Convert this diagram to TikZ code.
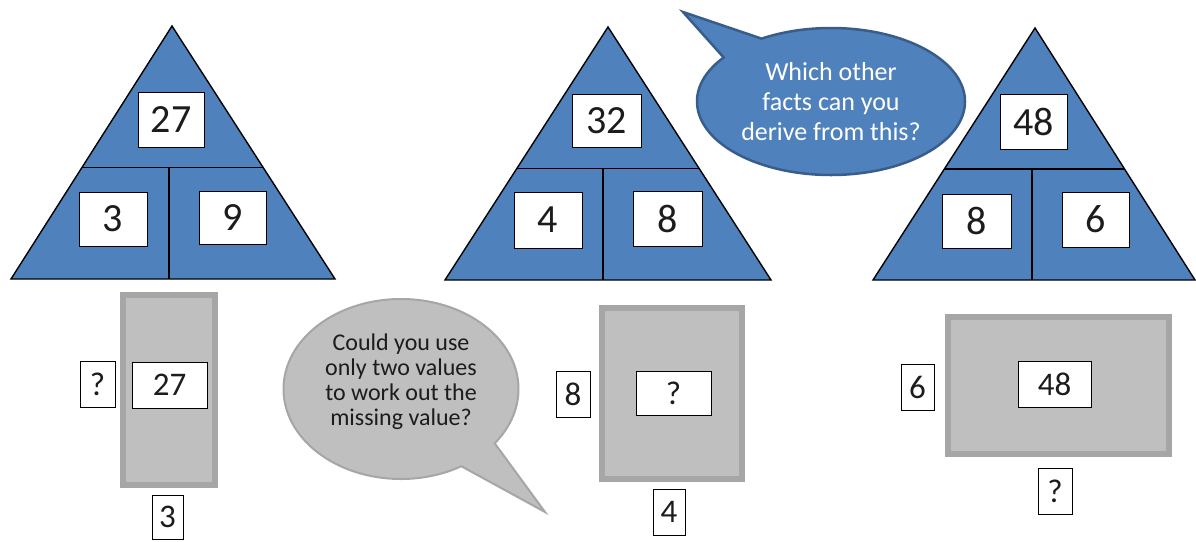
\documentclass[tikz,border=0pt]{standalone}
\usepackage{fontspec}
\setmainfont{Carlito}
\usetikzlibrary{calc,shapes.callouts}
\definecolor{triblue}{HTML}{4F81BD}
\definecolor{bubedge}{HTML}{385D8A}
\definecolor{grayfill}{HTML}{BFBFBF}
\definecolor{grayedge}{HTML}{A6A6A6}
\definecolor{txtdark}{HTML}{1C1C1C}
\begin{document}
\begin{tikzpicture}[x=1pt,y=-1pt,
  tri/.style={fill=triblue,draw=black,line width=1.4pt,line join=miter},
  divline/.style={draw=black,line width=1.4pt},
  bignum/.style={draw=black,fill=white,line width=1pt,inner sep=0pt,text=txtdark,
    font=\fontsize{40}{44}\selectfont},
  smallnum/.style={draw=black,fill=white,line width=1pt,inner sep=0pt,text=txtdark,
    font=\fontsize{33}{36}\selectfont},
  grayrect/.style={draw=grayedge,fill=grayfill,line width=6pt,inner sep=0pt},
  graybub/.style={ellipse callout,draw=grayedge,fill=grayfill,line width=2pt,inner sep=0pt,
    callout pointer arc=22,align=center,text=txtdark,
    font=\fontsize{24}{25}\selectfont},
  bluebub/.style={ellipse callout,draw=bubedge,fill=triblue,line width=2.5pt,inner sep=0pt,
    callout pointer arc=22,align=center,text=white,
    font=\fontsize{26}{30}\selectfont}
]
\useasboundingbox (0,0) rectangle (1196,541);

% ---------- Triangle 1 ----------
\coordinate (A1) at (172,26);
\coordinate (L1) at (11,279);
\coordinate (R1) at (335,279);
\coordinate (D1l) at ($(A1)!0.56!(L1)$);
\coordinate (D1r) at ($(A1)!0.56!(R1)$);
\coordinate (V1) at (169,279);
\coordinate (V1t) at (V1 |- D1l);
\draw[tri] (A1) -- (L1) -- (R1) -- cycle;
\draw[divline] (D1l) -- (D1r);
\draw[divline] (V1t) -- (V1);
\node[bignum,minimum width=66pt,minimum height=55pt] (t1top) at (171,119.5) {27};
\node[bignum,minimum width=68pt,minimum height=54pt] (t1l) at (113,219) {3};
\node[bignum,minimum width=67pt,minimum height=53pt] (t1r) at (232.5,217.5) {9};

% ---------- Triangle 2 ----------
\coordinate (A2) at (608,27);
\coordinate (L2) at (445,280);
\coordinate (R2) at (771,280);
\coordinate (D2l) at ($(A2)!0.56!(L2)$);
\coordinate (D2r) at ($(A2)!0.56!(R2)$);
\coordinate (V2) at (603,280);
\coordinate (V2t) at (V2 |- D2l);
\draw[tri] (A2) -- (L2) -- (R2) -- cycle;
\draw[divline] (D2l) -- (D2r);
\draw[divline] (V2t) -- (V2);
\node[bignum,minimum width=69pt,minimum height=53pt] (t2top) at (606.5,120.5) {32};
\node[bignum,minimum width=68pt,minimum height=56pt] (t2l) at (548,220) {4};
\node[bignum,minimum width=69pt,minimum height=55pt] (t2r) at (667.5,218.5) {8};

% ---------- Triangle 3 ----------
\coordinate (A3) at (1035,28);
\coordinate (L3) at (873,280);
\coordinate (R3) at (1195,280);
\coordinate (D3l) at ($(A3)!0.56!(L3)$);
\coordinate (D3r) at ($(A3)!0.56!(R3)$);
\coordinate (V3) at (1032,280);
\coordinate (V3t) at (V3 |- D3l);
\draw[tri] (A3) -- (L3) -- (R3) -- cycle;
\draw[divline] (D3l) -- (D3r);
\draw[divline] (V3t) -- (V3);
\node[bignum,minimum width=67pt,minimum height=55pt] (t3top) at (1033.5,121.5) {48};
\node[bignum,minimum width=69pt,minimum height=54pt] (t3l) at (976.5,221) {8};
\node[bignum,minimum width=67pt,minimum height=55pt] (t3r) at (1095.5,219.5) {6};

% ---------- Area rectangles ----------
\node[grayrect,minimum width=92pt,minimum height=190pt] (g1) at (169,390) {};
\node[smallnum,minimum width=75pt,minimum height=46pt] (g1c) at (169.5,385) {27};
\node[smallnum,minimum width=35pt,minimum height=46pt] (g1s) at (97.5,384) {?};
\node[smallnum,minimum width=31pt,minimum height=44pt] (g1b) at (167.5,517) {3};

\node[grayrect,minimum width=140pt,minimum height=171pt] (g2) at (672,393.5) {};
\node[smallnum,minimum width=75pt,minimum height=44pt] (g2c) at (673.5,393) {?};
\node[smallnum,minimum width=34pt,minimum height=46pt] (g2s) at (573,394) {8};
\node[smallnum,minimum width=32pt,minimum height=46pt] (g2b) at (669,512) {4};

\node[grayrect,minimum width=221pt,minimum height=137pt] (g3) at (1058.5,385.5) {};
\node[smallnum,minimum width=73pt,minimum height=46pt] (g3c) at (1054.5,384) {48};
\node[smallnum,minimum width=33pt,minimum height=46pt] (g3s) at (917.5,387) {6};
\node[smallnum,minimum width=34pt,minimum height=46pt] (g3b) at (1055,491) {?};

% ---------- Speech bubbles ----------
\coordinate (gtip) at (545,512);
\node[graybub,minimum width=235pt,minimum height=180pt,callout absolute pointer={(gtip)}]
  (q1) at (401,389) {Could you use\\only two values\\to work out the\\missing value?\\[-6pt]\mbox{}};

\coordinate (btip) at (683,12);
\node[bluebub,minimum width=268pt,minimum height=147pt,callout absolute pointer={(btip)}]
  (q2) at (831,101.5) {Which other\\facts can you\\derive from this?};
\end{tikzpicture}
\end{document}
